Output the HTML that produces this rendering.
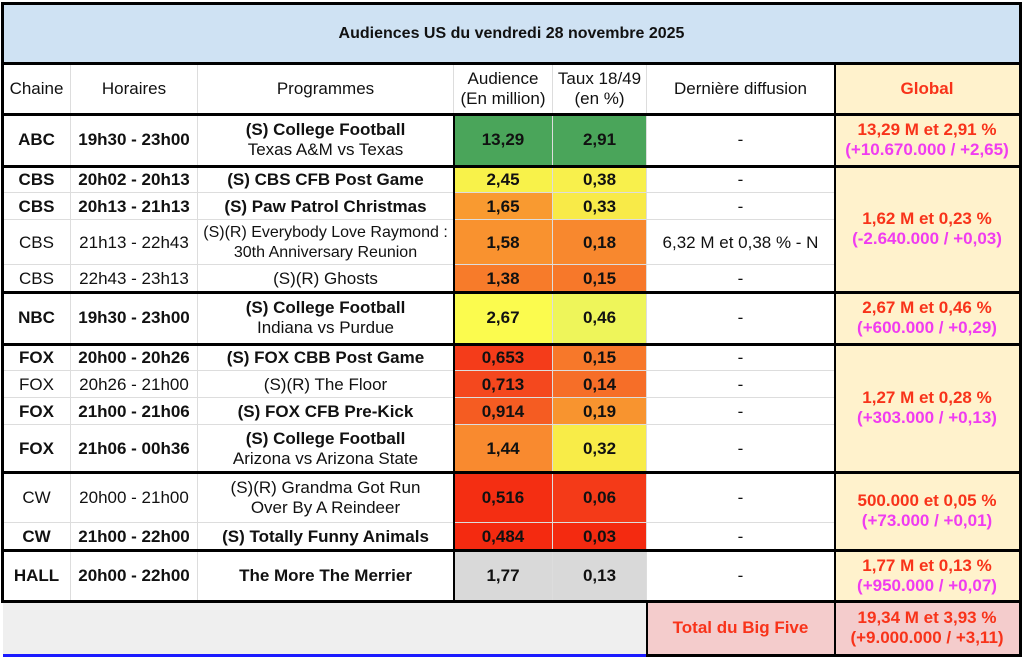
<!DOCTYPE html>
<html><head><meta charset="utf-8"><style>
body{margin:0;width:1023px;height:660px;background:#fff;position:relative;font-family:"Liberation Sans",Arial,sans-serif;overflow:hidden}
.c{position:absolute;box-sizing:border-box;display:flex;flex-direction:column;align-items:center;justify-content:center;text-align:center;font-size:17px;color:#111;line-height:20px;border-right:1px solid #ddd;border-bottom:1px solid #ddd;white-space:nowrap;padding-top:1px}
.b{font-weight:bold}
.r{color:#f8331a;font-weight:bold}
.m{color:#f03cf0;font-weight:bold}
.h{position:absolute;background:#000}
</style></head><body>
<div class="c b" style="left:3px;top:3px;width:1017px;height:61px;background:#cfe2f3;font-size:16px;border:none">Audiences US du vendredi 28 novembre 2025</div>

<div class="c" style="left:3px;top:64px;width:68px;height:50px">Chaine</div>
<div class="c" style="left:71px;top:64px;width:127px;height:50px">Horaires</div>
<div class="c" style="left:198px;top:64px;width:256px;height:50px">Programmes</div>
<div class="c" style="left:454px;top:64px;width:99px;height:50px">Audience<br>(En million)</div>
<div class="c" style="left:553px;top:64px;width:94px;height:50px">Taux 18/49<br>(en %)</div>
<div class="c" style="left:647px;top:64px;width:188px;height:50px">Dernière diffusion</div>
<div class="c r" style="left:835px;top:64px;width:185px;height:50px;background:#fff2cc">Global</div>

<div class="c b" style="left:3px;top:114px;width:68px;height:52px">ABC</div>
<div class="c b" style="left:71px;top:114px;width:127px;height:52px">19h30 - 23h00</div>
<div class="c" style="left:198px;top:114px;width:256px;height:52px"><b>(S) College Football</b>Texas A&amp;M vs Texas</div>
<div class="c b" style="left:454px;top:114px;width:99px;height:52px;background:#4aa55a">13,29</div>
<div class="c b" style="left:553px;top:114px;width:94px;height:52px;background:#4aa55a">2,91</div>
<div class="c" style="left:647px;top:114px;width:188px;height:52px">-</div>
<div class="c" style="left:835px;top:114px;width:185px;height:52px;background:#fff2cc"><span class="r">13,29 M et 2,91 %</span><span class="m">(+10.670.000 / +2,65)</span></div>

<div class="c b" style="left:3px;top:166px;width:68px;height:27px">CBS</div>
<div class="c b" style="left:71px;top:166px;width:127px;height:27px">20h02 - 20h13</div>
<div class="c b" style="left:198px;top:166px;width:256px;height:27px">(S) CBS CFB Post Game</div>
<div class="c b" style="left:454px;top:166px;width:99px;height:27px;background:#f8f24a">2,45</div>
<div class="c b" style="left:553px;top:166px;width:94px;height:27px;background:#f8f04c">0,38</div>
<div class="c" style="left:647px;top:166px;width:188px;height:27px">-</div>

<div class="c b" style="left:3px;top:193px;width:68px;height:27px">CBS</div>
<div class="c b" style="left:71px;top:193px;width:127px;height:27px">20h13 - 21h13</div>
<div class="c b" style="left:198px;top:193px;width:256px;height:27px">(S) Paw Patrol Christmas</div>
<div class="c b" style="left:454px;top:193px;width:99px;height:27px;background:#f99a30">1,65</div>
<div class="c b" style="left:553px;top:193px;width:94px;height:27px;background:#f8ea48">0,33</div>
<div class="c" style="left:647px;top:193px;width:188px;height:27px">-</div>

<div class="c" style="left:3px;top:220px;width:68px;height:45px">CBS</div>
<div class="c" style="left:71px;top:220px;width:127px;height:45px">21h13 - 22h43</div>
<div class="c" style="left:198px;top:220px;width:256px;height:45px;font-size:16px">(S)(R) Everybody Love Raymond :<br>30th Anniversary Reunion</div>
<div class="c b" style="left:454px;top:220px;width:99px;height:45px;background:#f9922f">1,58</div>
<div class="c b" style="left:553px;top:220px;width:94px;height:45px;background:#f8882e">0,18</div>
<div class="c" style="left:647px;top:220px;width:188px;height:45px">6,32 M et 0,38 % - N</div>

<div class="c" style="left:3px;top:265px;width:68px;height:27px">CBS</div>
<div class="c" style="left:71px;top:265px;width:127px;height:27px">22h43 - 23h13</div>
<div class="c" style="left:198px;top:265px;width:256px;height:27px">(S)(R) Ghosts</div>
<div class="c b" style="left:454px;top:265px;width:99px;height:27px;background:#f77b2a">1,38</div>
<div class="c b" style="left:553px;top:265px;width:94px;height:27px;background:#f7782a">0,15</div>
<div class="c" style="left:647px;top:265px;width:188px;height:27px">-</div>
<div class="c" style="left:835px;top:166px;width:185px;height:126px;background:#fff2cc"><span class="r">1,62 M et 0,23 %</span><span class="m">(-2.640.000 / +0,03)</span></div>

<div class="c b" style="left:3px;top:292px;width:68px;height:52px">NBC</div>
<div class="c b" style="left:71px;top:292px;width:127px;height:52px">19h30 - 23h00</div>
<div class="c" style="left:198px;top:292px;width:256px;height:52px"><b>(S) College Football</b>Indiana vs Purdue</div>
<div class="c b" style="left:454px;top:292px;width:99px;height:52px;background:#fbfb4e">2,67</div>
<div class="c b" style="left:553px;top:292px;width:94px;height:52px;background:#eef55a">0,46</div>
<div class="c" style="left:647px;top:292px;width:188px;height:52px">-</div>
<div class="c" style="left:835px;top:292px;width:185px;height:52px;background:#fff2cc"><span class="r">2,67 M et 0,46 %</span><span class="m">(+600.000 / +0,29)</span></div>

<div class="c b" style="left:3px;top:344px;width:68px;height:27px">FOX</div>
<div class="c b" style="left:71px;top:344px;width:127px;height:27px">20h00 - 20h26</div>
<div class="c b" style="left:198px;top:344px;width:256px;height:27px">(S) FOX CBB Post Game</div>
<div class="c b" style="left:454px;top:344px;width:99px;height:27px;background:#f43c1a">0,653</div>
<div class="c b" style="left:553px;top:344px;width:94px;height:27px;background:#f7782a">0,15</div>
<div class="c" style="left:647px;top:344px;width:188px;height:27px">-</div>

<div class="c" style="left:3px;top:371px;width:68px;height:27px">FOX</div>
<div class="c" style="left:71px;top:371px;width:127px;height:27px">20h26 - 21h00</div>
<div class="c" style="left:198px;top:371px;width:256px;height:27px">(S)(R) The Floor</div>
<div class="c b" style="left:454px;top:371px;width:99px;height:27px;background:#f4481e">0,713</div>
<div class="c b" style="left:553px;top:371px;width:94px;height:27px;background:#f66e28">0,14</div>
<div class="c" style="left:647px;top:371px;width:188px;height:27px">-</div>

<div class="c b" style="left:3px;top:398px;width:68px;height:27px">FOX</div>
<div class="c b" style="left:71px;top:398px;width:127px;height:27px">21h00 - 21h06</div>
<div class="c b" style="left:198px;top:398px;width:256px;height:27px">(S) FOX CFB Pre-Kick</div>
<div class="c b" style="left:454px;top:398px;width:99px;height:27px;background:#f55c22">0,914</div>
<div class="c b" style="left:553px;top:398px;width:94px;height:27px;background:#f8942f">0,19</div>
<div class="c" style="left:647px;top:398px;width:188px;height:27px">-</div>

<div class="c b" style="left:3px;top:425px;width:68px;height:47px">FOX</div>
<div class="c b" style="left:71px;top:425px;width:127px;height:47px">21h06 - 00h36</div>
<div class="c" style="left:198px;top:425px;width:256px;height:47px"><b>(S) College Football</b>Arizona vs Arizona State</div>
<div class="c b" style="left:454px;top:425px;width:99px;height:47px;background:#f98a2f">1,44</div>
<div class="c b" style="left:553px;top:425px;width:94px;height:47px;background:#f8ec48">0,32</div>
<div class="c" style="left:647px;top:425px;width:188px;height:47px">-</div>
<div class="c" style="left:835px;top:344px;width:185px;height:128px;background:#fff2cc"><span class="r">1,27 M et 0,28 %</span><span class="m">(+303.000 / +0,13)</span></div>

<div class="c" style="left:3px;top:472px;width:68px;height:51px">CW</div>
<div class="c" style="left:71px;top:472px;width:127px;height:51px">20h00 - 21h00</div>
<div class="c" style="left:198px;top:472px;width:256px;height:51px">(S)(R) Grandma Got Run<br>Over By A Reindeer</div>
<div class="c b" style="left:454px;top:472px;width:99px;height:51px;background:#f42e12">0,516</div>
<div class="c b" style="left:553px;top:472px;width:94px;height:51px;background:#f43a18">0,06</div>
<div class="c" style="left:647px;top:472px;width:188px;height:51px">-</div>

<div class="c b" style="left:3px;top:523px;width:68px;height:27px">CW</div>
<div class="c b" style="left:71px;top:523px;width:127px;height:27px">21h00 - 22h00</div>
<div class="c b" style="left:198px;top:523px;width:256px;height:27px">(S) Totally Funny Animals</div>
<div class="c b" style="left:454px;top:523px;width:99px;height:27px;background:#f42a10">0,484</div>
<div class="c b" style="left:553px;top:523px;width:94px;height:27px;background:#f42a10">0,03</div>
<div class="c" style="left:647px;top:523px;width:188px;height:27px">-</div>
<div class="c" style="left:835px;top:472px;width:185px;height:78px;background:#fff2cc"><span class="r">500.000 et 0,05 %</span><span class="m">(+73.000 / +0,01)</span></div>

<div class="c b" style="left:3px;top:550px;width:68px;height:51px">HALL</div>
<div class="c b" style="left:71px;top:550px;width:127px;height:51px">20h00 - 22h00</div>
<div class="c b" style="left:198px;top:550px;width:256px;height:51px">The More The Merrier</div>
<div class="c b" style="left:454px;top:550px;width:99px;height:51px;background:#d9d9d9">1,77</div>
<div class="c b" style="left:553px;top:550px;width:94px;height:51px;background:#d9d9d9">0,13</div>
<div class="c" style="left:647px;top:550px;width:188px;height:51px">-</div>
<div class="c" style="left:835px;top:550px;width:185px;height:51px;background:#fff2cc"><span class="r">1,77 M et 0,13 %</span><span class="m">(+950.000 / +0,07)</span></div>

<div class="c" style="left:3px;top:601px;width:644px;height:54px;background:#efefef"></div>
<div class="c r" style="left:647px;top:601px;width:188px;height:54px;background:#f4cccc">Total du Big Five</div>
<div class="c r" style="left:835px;top:601px;width:185px;height:54px;background:#f4cccc">19,34 M et 3,93 %<br>(+9.000.000 / +3,11)</div>
<div class="h" style="left:3px;top:654px;width:644px;height:3px;background:#1a1aff"></div>

<div class="h" style="left:1px;top:2px;width:1021px;height:3px"></div>
<div class="h" style="left:1px;top:62px;width:1021px;height:3px"></div>
<div class="h" style="left:1px;top:113px;width:1021px;height:3px"></div>
<div class="h" style="left:1px;top:165px;width:1021px;height:3px"></div>
<div class="h" style="left:1px;top:291px;width:1021px;height:3px"></div>
<div class="h" style="left:1px;top:343px;width:1021px;height:3px"></div>
<div class="h" style="left:1px;top:471px;width:1021px;height:3px"></div>
<div class="h" style="left:1px;top:549px;width:1021px;height:3px"></div>
<div class="h" style="left:1px;top:600px;width:1021px;height:3px"></div>
<div class="h" style="left:646px;top:654px;width:376px;height:3px"></div>
<div class="h" style="left:1px;top:2px;width:3px;height:600px"></div>
<div class="h" style="left:1019px;top:2px;width:3px;height:655px"></div>
<div class="h" style="left:453px;top:114px;width:2px;height:488px"></div>
<div class="h" style="left:834px;top:64px;width:2px;height:593px"></div>
<div class="h" style="left:646px;top:601px;width:2px;height:56px"></div>
</body></html>
